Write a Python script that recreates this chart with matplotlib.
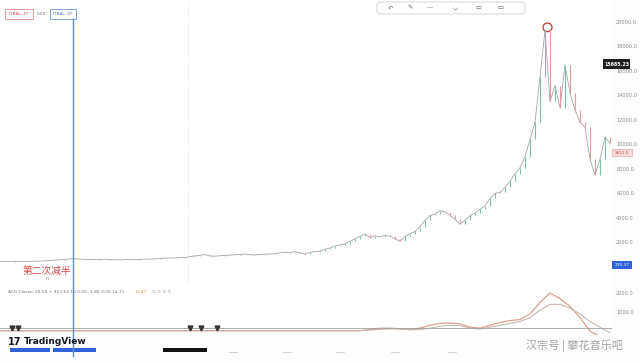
import matplotlib
matplotlib.use("Agg")
import matplotlib.pyplot as plt
from matplotlib.patches import Rectangle, FancyBboxPatch, Ellipse
import numpy as np

# ---------------- data ----------------
# closing prices sampled every 5 px across the chart (left -> right)
closes = [430, 440, 445, 450, 455, 450, 460, 470, 480, 500, 530, 560, 580, 620, 660,
          670, 640, 630, 600, 610, 620, 630, 600, 590, 580, 600, 610, 610, 620, 640,
          650, 660, 700, 720, 730, 740, 760, 780, 850, 900, 960, 1000, 900, 880, 920,
          940, 960, 1000, 1020, 1050, 1000, 980, 1010, 1040, 1060, 1100, 1150, 1200, 1180, 1250,
          1150, 1050, 1200, 1250, 1300, 1450, 1550, 1700, 1800, 1900, 2100, 2300, 2500, 2700, 2400,
          2550, 2450, 2600, 2500, 2300, 2100, 2500, 2700, 2900, 3300, 3800, 4200, 4300, 4600, 4500,
          4200, 3900, 3500, 3800, 4200, 4400, 4700, 5000, 5600, 6000, 6100, 6500, 7000, 7600, 8100,
          9000, 10400, 11800, 15500, 19300, 13500, 14800, 13000, 16500, 14200, 12800, 11800, 11400, 8800, 7500,
          8800, 10600, 10100]

# ACD oscillator (lower pane), sampled every 10 px
acd_line = [20] * 37 + [60, 100, 120, 110, 80, 150, 300, 400, 420, 380, 200, 150, 300, 450, 550,
                        600, 900, 1500, 2000, 1700, 1300, 700, 0, -300, -400]
acd_signal = [10] * 37 + [100, 150, 160, 120, 60, 80, 150, 250, 300, 280, 150, 100, 200, 300, 400,
                          500, 700, 1100, 1400, 1400, 1200, 900, 500, 200, -100]

price_ticks = [2000, 4000, 6000, 8000, 10000, 12000, 14000, 16000, 18000, 20000]
acd_ticks = [1000, 2000]

# ---------------- figure ----------------
W, H = 640, 363
fig = plt.figure(figsize=(6.4, 3.63), dpi=100)
fig.patch.set_facecolor("#fdfdfd")

def frac(x0, y0, x1, y1):
    return [x0 / W, 1 - y1 / H, (x1 - x0) / W, (y1 - y0) / H]

grey_txt = "#8a8a8a"

# main price pane
ax = fig.add_axes(frac(0, 0, 612, 285))
ax.set_facecolor("#ffffff")
n = len(closes)
xs = np.arange(n)
opens = [closes[0]] + closes[:-1]
up = "#7cc0b4"
dn = "#e39aa0"
ax.plot(xs, closes, color="#8f8f8f", lw=0.6, alpha=0.8)
for i in range(n):
    c = up if closes[i] >= opens[i] else dn
    if i < 60:
        c = "#b9b9b9"
    ax.vlines(xs[i], min(opens[i], closes[i]), max(opens[i], closes[i]),
              color=c, lw=0.8)
ax.set_xlim(0, 612 / 5)
ax.set_ylim(-1470, 21780)
ax.set_yticks(price_ticks)
ax.set_yticklabels([f"{t:.1f}" for t in price_ticks])
ax.yaxis.tick_right()
ax.tick_params(axis="y", length=0, labelsize=3.6, colors=grey_txt, pad=3)
ax.set_xticks([])
for s in ax.spines.values():
    s.set_visible(False)
ax.axvline(188 / 5, color="#d8d8d8", lw=0.6, ls=":")
# peak circle
imax = int(np.argmax(closes))
ax.add_patch(Ellipse((imax + 0.5, closes[imax] + 250), 1.8, 700, fill=False,
                     ec="#c0392b", lw=0.9))

# lower ACD pane
ax2 = fig.add_axes(frac(0, 285, 612, 335))
ax2.set_facecolor("#ffffff")
xa = np.arange(len(acd_line)) * 2
ax2.plot(xa, acd_line, color="#d9a090", lw=0.9)
ax2.plot(xa, acd_signal, color="#c9b8b0", lw=0.8)
ax2.axhline(150, color="#a0a0a0", lw=0.6)
ax2.set_xlim(0, 612 / 5)
ax2.set_ylim(-210, 2420)
ax2.set_yticks(acd_ticks)
ax2.set_yticklabels([f"{t:.1f}" for t in acd_ticks])
ax2.yaxis.tick_right()
ax2.tick_params(axis="y", length=0, labelsize=3.6, colors=grey_txt, pad=3)
ax2.set_xticks([])
for s in ax2.spines.values():
    s.set_visible(False)

# overlay for annotations (pixel coordinates)
ov = fig.add_axes([0, 0, 1, 1])
ov.set_xlim(0, W)
ov.set_ylim(H, 0)
ov.axis("off")
ov.patch.set_alpha(0)

cjk = ["Noto Sans CJK SC", "DejaVu Sans"]

# blue vertical line (halving marker)
ov.plot([73, 73], [19, 356], color="#5b8ad6", lw=1.0)
# top-left legend boxes
ov.add_patch(Rectangle((5, 9), 28, 10, fill=False, ec="#e08a8a", lw=0.6))
ov.text(19, 14, "ITBAL: 4Y", fontsize=3, color="#d05050", ha="center", va="center")
ov.text(41, 14, "0.00", fontsize=3, color="#666666", ha="center", va="center")
ov.add_patch(Rectangle((50, 9), 26, 10, fill=False, ec="#6a95d8", lw=0.6))
ov.text(63, 14, "ITBAL: 4Y", fontsize=3, color="#4a7fd0", ha="center", va="center")

# toolbar
ov.add_patch(FancyBboxPatch((377, 2), 148, 12, boxstyle="round,pad=0,rounding_size=3",
                            fc="#ffffff", ec="#d0d0d0", lw=0.6))
for xi, sym in zip([390, 410, 430, 455, 478, 500], ["↶", "✎", "—", "◡", "▭", "▭"]):
    ov.text(xi, 8, sym, fontsize=4.5, color="#666666", ha="center", va="center")

# price labels on right
ov.add_patch(Rectangle((603, 59), 27, 10, fc="#1e1e1e", ec="none"))
ov.text(617, 64, "15685.23", fontsize=3.4, color="white", ha="center", va="center",
        fontweight="bold")
ov.add_patch(Rectangle((612, 149), 20, 7, fc="#f6dcdc", ec="#e39aa0", lw=0.4))
ov.text(622, 152.5, "9612.5", fontsize=3.0, color="#d05050", ha="center", va="center")
ov.add_patch(Rectangle((612, 261), 20, 8, fc="#2f62d8", ec="none"))
ov.text(622, 265, "235.37", fontsize=3.2, color="white", ha="center", va="center")

# chinese annotation
ov.text(47, 271, "第二次减半", fontsize=7, color="#d04a4a", ha="center", va="center",
        family=cjk)
ov.text(47, 279, "n", fontsize=3.5, color="#888888", ha="center", va="center")

# indicator legend
ov.text(8, 292, "ACD Classic 20 50 + 453.62 10 0.00", fontsize=3.2, color="#777777",
        va="center")
ov.text(90, 292, "1.88 0.00 14.71", fontsize=3.2, color="#777777", va="center")
ov.text(135, 292, "11.47", fontsize=3.2, color="#e0a040", va="center")
ov.text(152, 292, "∅ ∅ ∅ ∅", fontsize=3.2, color="#999999", va="center")

# event triangles
ov.plot([12, 18, 190, 201, 217], [328] * 5, ls="none", marker="v", ms=3.5,
        color="#333333")

# TradingView logo
ov.text(8, 342, "17", fontsize=7, color="#131722", fontweight="bold", va="center")
ov.text(24, 342, "TradingView", fontsize=6.5, color="#131722", fontweight="bold",
        va="center")

# bottom bars
ov.add_patch(Rectangle((10, 348), 40, 4, fc="#2f62d8", ec="none"))
ov.add_patch(Rectangle((53, 348), 43, 4, fc="#2f62d8", ec="none"))
ov.add_patch(Rectangle((163, 348), 44, 4, fc="#111111", ec="none"))
for xi in [233, 287, 340, 395, 452]:
    ov.plot([xi - 4, xi + 4], [352, 352], color="#cccccc", lw=0.6)

# watermark
ov.text(575, 346, "汉宗号 | 攀花音乐吧", fontsize=8, color="#9a9a9a", ha="center",
        va="center", family=cjk, alpha=0.9)

fig.savefig("out.png", dpi=100, facecolor=fig.get_facecolor())
